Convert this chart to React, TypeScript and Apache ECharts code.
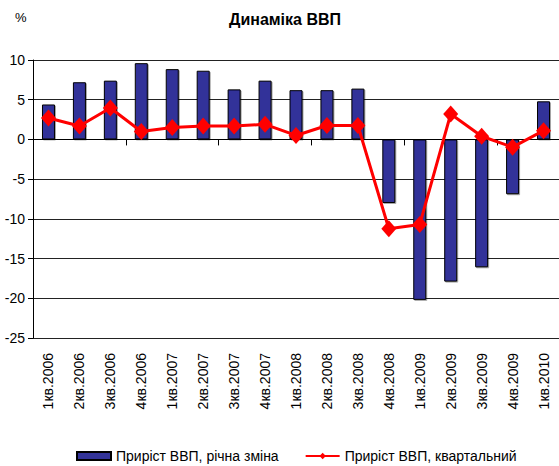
import React, { useEffect, useRef } from "react";
import * as echarts from "echarts";

const categories = [
  "1кв.2006", "2кв.2006", "3кв.2006", "4кв.2006",
  "1кв.2007", "2кв.2007", "3кв.2007", "4кв.2007",
  "1кв.2008", "2кв.2008", "3кв.2008", "4кв.2008",
  "1кв.2009", "2кв.2009", "3кв.2009", "4кв.2009",
  "1кв.2010",
];
const annualGrowth = [4.4, 7.2, 7.4, 9.6, 8.85, 8.65, 6.3, 7.4, 6.2, 6.2, 6.4, -8.0, -20.2, -17.9, -16.1, -6.9, 4.8];
const quarterlyGrowth = [2.7, 1.7, 3.95, 1.0, 1.5, 1.7, 1.7, 1.9, 0.5, 1.75, 1.75, -11.25, -10.7, 3.2, 0.4, -0.97, 1.1];
const seriesNames = ["Приріст ВВП, річна зміна", "Приріст ВВП, квартальний"];
const titleText = "Динаміка ВВП";
const unitText = "%";

const FONT = "'Liberation Sans', Arial, sans-serif";

export default function App() {
  const ref = useRef<HTMLDivElement>(null);
  useEffect(() => {
    if (!ref.current) return;
    const chart = echarts.init(ref.current, undefined, { renderer: "svg" });
    chart.setOption({
      animation: false,
      backgroundColor: "#fff",
      textStyle: { fontFamily: FONT },
      title: {
        text: titleText,
        left: 280,
        textAlign: "center",
        top: 6,
        textStyle: { fontSize: 16, fontWeight: "bold", color: "#000", fontFamily: FONT },
      },
      graphic: [
        {
          type: "text",
          left: 15,
          top: 11,
          style: { text: unitText, fontSize: 13, fill: "#000", fontFamily: FONT },
        },
      ],
      legend: {
        left: 76,
        top: 449,
        padding: 0,
        itemWidth: 34,
        itemHeight: 8,
        itemGap: 26,
        textStyle: { fontSize: 14, color: "#000", fontFamily: FONT },
        data: [
          { name: seriesNames[0], icon: "rect" },
          { name: seriesNames[1] },
        ],
      },
      grid: { left: 33, right: 0, top: 60, bottom: 128, containLabel: false },
      xAxis: [
        {
          type: "category",
          data: categories,
          position: "bottom",
          axisLine: { show: false, onZero: false },
          axisTick: { show: false },
          axisLabel: {
            rotate: 90,
            fontSize: 14,
            color: "#000",
            margin: 15,
            fontFamily: FONT,
            interval: 0,
          },
        },
        {
          type: "category",
          data: categories,
          position: "bottom",
          axisLine: { show: true, onZero: true, lineStyle: { color: "#000", width: 1 } },
          axisTick: { show: true, length: 6, lineStyle: { color: "#000" } },
          axisLabel: { show: false },
        },
      ],
      yAxis: {
        type: "value",
        min: -25,
        max: 10,
        interval: 5,
        axisLine: { show: true, lineStyle: { color: "#000", width: 1 } },
        axisTick: { show: true, length: 5, lineStyle: { color: "#000" } },
        axisLabel: { fontSize: 14, color: "#000", margin: 8, fontFamily: FONT },
        splitLine: { show: true, lineStyle: { color: "#222", width: 1 } },
      },
      series: [
        {
          name: seriesNames[0],
          type: "bar",
          xAxisIndex: 1,
          data: annualGrowth,
          barWidth: 13,
          itemStyle: {
            color: "#333399",
            borderColor: "#000",
            borderWidth: 1,
            shadowColor: "rgba(0,0,0,0.35)",
            shadowOffsetX: 1,
            shadowOffsetY: 1,
            shadowBlur: 0,
          },
        },
        {
          name: seriesNames[1],
          type: "line",
          xAxisIndex: 1,
          data: quarterlyGrowth,
          symbol: "diamond",
          symbolSize: [15, 17],
          lineStyle: { color: "#ff0000", width: 3 },
          itemStyle: { color: "#ff0000" },
          z: 5,
        },
      ],
    });
    return () => chart.dispose();
  }, []);
  return <div ref={ref} style={{ width: 559, height: 466, position: "absolute", left: 0, top: 0 }} />;
}
